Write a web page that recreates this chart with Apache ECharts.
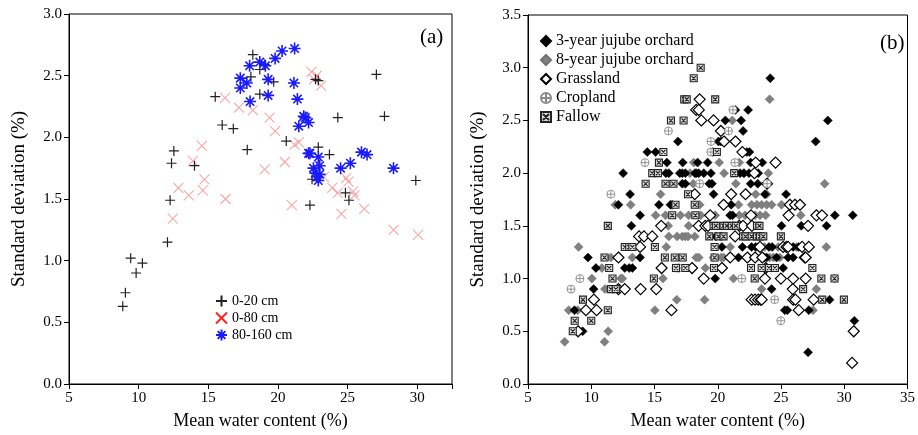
<!DOCTYPE html>
<html>
<head>
<meta charset="utf-8">
<script src="https://cdn.jsdelivr.net/npm/echarts@6/dist/echarts.min.js"></script>
<style>
  html, body { margin: 0; padding: 0; background: #fff; }
  #main { width: 918px; height: 435px; }
</style>
</head>
<body>
<div id="main"></div>
<script>
// panel (a): soil depth layers, [mean water content, standard deviation]
var depth0to20 = [[8.86,0.63],[9.05,0.74],[9.43,1.02],[9.82,0.90],[10.27,0.98],[12.07,1.15],[12.26,1.49],[12.36,1.79],[12.53,1.89],[14.01,1.77],[15.5,2.33],[16.0,2.10],[16.8,2.07],[17.8,1.90],[18.06,2.49],[18.2,2.67],[18.7,2.55],[18.7,2.35],[19.05,2.59],[19.7,2.45],[20.6,1.97],[22.45,1.66],[22.3,1.45],[22.7,2.47],[22.9,2.46],[22.9,1.92],[23.7,1.86],[24.3,2.16],[24.85,1.55],[25.1,1.49],[27.07,2.51],[27.65,2.17],[29.9,1.65]];
var depth0to80 = [[12.45,1.34],[12.86,1.59],[13.6,1.53],[13.9,1.81],[14.54,1.93],[14.6,1.57],[14.73,1.66],[16.2,2.32],[16.24,1.50],[17.2,2.24],[18.2,2.22],[19.05,1.74],[19.4,2.16],[19.8,2.05],[20.5,1.80],[21.0,1.45],[21.2,1.94],[21.5,1.96],[22.4,2.53],[22.6,2.47],[22.8,2.50],[23.1,2.42],[23.3,1.68],[23.9,1.59],[24.3,1.55],[24.56,1.38],[24.9,1.67],[25.06,1.64],[25.4,1.56],[25.5,1.53],[26.2,1.42],[28.3,1.25],[30.07,1.21]];
var depth80to160 = [[17.3,2.40],[17.3,2.48],[17.77,2.44],[17.97,2.58],[18.0,2.29],[18.7,2.61],[19.1,2.58],[19.3,2.47],[19.3,2.34],[19.8,2.64],[20.3,2.70],[21.2,2.72],[21.15,2.44],[21.4,2.31],[21.5,2.09],[21.85,2.17],[21.97,2.16],[22.2,2.12],[22.2,1.87],[22.3,1.87],[22.55,1.75],[22.7,1.71],[22.9,1.84],[22.8,1.68],[22.9,1.65],[23.0,1.70],[23.0,1.77],[24.5,1.75],[25.2,1.79],[26.0,1.88],[26.4,1.86],[28.3,1.75]];

// panel (b): land use types
var orchard3 = [[24.15,2.9],[21.4,2.6],[22.4,2.6],[20.6,2.5],[21.85,2.5],[28.7,2.5],[22.0,2.4],[16.85,2.3],[20.06,2.3],[20.25,2.3],[27.74,2.3],[14.43,2.2],[15.09,2.2],[19.62,2.2],[22.3,2.2],[22.5,2.2],[15.98,2.1],[17.23,2.1],[18.41,2.1],[19.2,2.1],[22.6,2.1],[23.52,2.1],[12.52,2.0],[15.9,2.0],[16.13,2.0],[17.0,2.0],[17.2,2.0],[17.44,2.0],[18.2,2.0],[18.3,2.0],[18.5,2.0],[18.9,2.0],[19.46,2.0],[21.77,2.0],[22.06,2.0],[22.47,2.0],[23.2,2.0],[17.2,1.9],[17.44,1.9],[19.33,1.9],[19.54,1.9],[22.6,1.9],[23.16,1.9],[13.07,1.8],[19.67,1.8],[23.73,1.8],[25.4,1.8],[12.15,1.7],[15.35,1.7],[16.26,1.7],[16.4,1.7],[21.06,1.7],[13.86,1.6],[20.98,1.6],[21.17,1.6],[29.26,1.6],[30.67,1.6],[13.17,1.5],[25.04,1.5],[26.6,1.5],[28.6,1.5],[19.85,1.4],[20.33,1.3],[21.95,1.3],[22.68,1.3],[23.0,1.3],[24.05,1.3],[24.3,1.3],[25.96,1.3],[26.4,1.3],[9.74,1.2],[13.86,1.2],[21.64,1.2],[23.68,1.2],[23.86,1.2],[24.65,1.2],[25.56,1.2],[25.96,1.2],[10.37,1.1],[12.65,1.1],[13.0,1.1],[13.25,1.1],[25.17,1.1],[19.8,1.0],[10.19,0.9],[24.26,0.9],[28.84,0.8],[8.67,0.7],[25.3,0.7],[25.5,0.7],[27.2,0.7],[30.8,0.6],[9.32,0.5],[27.14,0.3]];
var orchard8 = [[24.1,2.7],[21.15,2.5],[20.5,2.3],[18.1,2.1],[20.12,2.1],[21.7,2.1],[17.8,2.0],[20.5,2.0],[22.1,2.0],[24.0,2.0],[18.07,1.9],[21.43,1.9],[28.45,1.9],[15.48,1.8],[23.0,1.8],[23.87,1.8],[11.9,1.7],[13.12,1.7],[18.57,1.7],[21.64,1.7],[22.68,1.7],[23.1,1.7],[23.47,1.7],[23.87,1.7],[24.26,1.7],[25.04,1.7],[15.09,1.6],[15.87,1.6],[17.05,1.6],[17.7,1.6],[18.65,1.6],[19.8,1.6],[21.7,1.6],[22.16,1.6],[22.95,1.6],[23.34,1.6],[23.78,1.6],[26.56,1.6],[16.08,1.5],[17.7,1.5],[21.2,1.5],[16.13,1.4],[16.79,1.4],[17.2,1.4],[17.44,1.4],[17.65,1.4],[18.18,1.4],[9.0,1.3],[15.93,1.3],[20.98,1.3],[23.2,1.3],[23.68,1.3],[24.78,1.3],[26.22,1.3],[28.58,1.3],[11.55,1.2],[13.25,1.2],[18.3,1.2],[18.5,1.2],[19.67,1.2],[20.27,1.2],[20.46,1.2],[24.1,1.2],[24.4,1.2],[24.9,1.2],[10.84,1.1],[16.92,1.1],[19.02,1.1],[10.05,1.0],[12.34,1.0],[12.46,1.0],[15.66,1.0],[21.24,1.0],[29.23,1.0],[11.08,0.9],[23.47,0.9],[27.79,0.9],[16.76,0.8],[18.96,0.8],[8.22,0.7],[8.93,0.7],[15.03,0.7],[27.53,0.7],[11.34,0.5],[7.9,0.4],[11.05,0.4]];
var grassland = [[18.57,2.7],[18.3,2.6],[18.5,2.6],[18.7,2.5],[19.67,2.5],[20.25,2.4],[20.5,2.3],[21.4,2.3],[21.95,2.2],[23.0,2.1],[24.57,2.1],[22.9,2.0],[23.9,1.9],[18.18,1.8],[21.06,1.8],[22.2,1.8],[20.46,1.7],[25.7,1.7],[26.1,1.7],[26.5,1.7],[19.4,1.6],[22.63,1.6],[25.6,1.6],[27.8,1.6],[28.24,1.6],[15.53,1.5],[18.49,1.5],[19.02,1.5],[19.23,1.5],[21.7,1.5],[22.0,1.5],[22.7,1.5],[27.14,1.5],[13.78,1.4],[14.17,1.4],[14.82,1.4],[21.37,1.4],[13.86,1.3],[23.34,1.3],[25.17,1.3],[25.43,1.3],[25.56,1.3],[26.67,1.3],[27.2,1.3],[12.15,1.2],[20.98,1.2],[22.34,1.2],[22.95,1.2],[23.52,1.2],[26.88,1.2],[26.95,1.2],[15.56,1.1],[17.97,1.1],[20.33,1.1],[23.79,1.1],[18.89,1.0],[23.73,1.0],[24.99,1.0],[25.96,1.0],[26.95,1.0],[12.15,0.9],[12.65,0.9],[13.9,0.9],[15.14,0.9],[25.93,0.9],[10.21,0.8],[22.68,0.8],[22.95,0.8],[23.2,0.8],[23.4,0.8],[23.47,0.8],[25.96,0.8],[26.14,0.8],[27.58,0.8],[9.58,0.7],[10.42,0.7],[16.34,0.7],[26.4,0.7],[8.96,0.5],[30.75,0.5],[30.62,0.2]];
var cropland = [[21.2,2.6],[16.1,2.4],[20.85,2.4],[19.46,2.3],[19.46,2.2],[14.25,2.1],[21.35,2.1],[18.57,1.9],[23.9,1.9],[11.55,1.8],[16.92,1.1],[16.7,1.1],[9.1,1.0],[21.9,1.0],[8.4,0.9],[24.5,0.8],[24.99,0.6]];
var fallow = [[18.65,3.0],[18.1,2.9],[17.35,2.7],[17.55,2.7],[19.8,2.7],[16.3,2.5],[17.3,2.5],[15.7,2.2],[19.93,2.2],[15.35,2.1],[14.82,2.0],[15.27,2.0],[21.3,2.0],[14.3,1.9],[15.87,1.9],[16.5,1.9],[17.65,1.8],[16.66,1.7],[18.18,1.7],[16.4,1.6],[18.23,1.6],[11.31,1.5],[19.67,1.5],[19.85,1.5],[20.46,1.5],[20.72,1.5],[21.11,1.5],[21.43,1.5],[23.1,1.5],[23.3,1.5],[19.33,1.4],[20.06,1.4],[20.46,1.4],[22.0,1.4],[22.2,1.4],[22.68,1.4],[23.1,1.4],[23.34,1.4],[23.6,1.4],[24.99,1.4],[12.65,1.3],[13.0,1.3],[13.25,1.3],[15.03,1.3],[19.75,1.3],[11.05,1.2],[15.82,1.2],[16.6,1.2],[17.23,1.2],[19.75,1.2],[11.42,1.1],[16.7,1.1],[17.44,1.1],[19.7,1.1],[22.63,1.1],[23.47,1.1],[24.05,1.1],[24.52,1.1],[27.48,1.1],[11.68,1.0],[14.95,1.0],[22.92,1.0],[28.19,1.0],[29.23,1.0],[11.55,0.9],[11.94,0.9],[26.75,0.9],[9.35,0.8],[28.26,0.8],[29.97,0.8],[11.31,0.7],[8.69,0.6],[10.0,0.6],[8.54,0.5]];

var FONT = 'Liberation Serif';
var PLUS = 'path://M0,5L10,5M5,0L5,10';
var CROSS = 'path://M0,0L10,10M0,10L10,0';
var STAR = 'path://M5,0L5,10M0,5L10,5M1.5,1.5L8.5,8.5M1.5,8.5L8.5,1.5';
var CROP = 'path://M10,5A5,5,0,1,1,0,5A5,5,0,1,1,10,5ZM5,0L5,10M0,5L10,5';
var FALLOW = 'path://M0,0L10,0L10,10L0,10ZM2,2L8,8M2,8L8,2';

function xAxis(idx, max) {
  return {
    gridIndex: idx, type: 'value', min: 5, max: max, interval: 5,
    name: 'Mean water content (%)', nameLocation: 'middle', nameGap: 28,
    nameTextStyle: { fontFamily: FONT, fontSize: 18, color: '#000' },
    axisLine: { lineStyle: { color: '#000', width: 1 } },
    axisTick: { inside: false, length: 5, lineStyle: { color: '#000' } },
    axisLabel: {
      fontFamily: FONT, fontSize: 15, color: '#000', margin: 7,
      formatter: function (v) { return v % 5 === 0 ? String(v) : ''; }
    },
    splitLine: { show: false }
  };
}

function yAxis(idx, max) {
  return {
    gridIndex: idx, type: 'value', min: 0, max: max, interval: 0.5,
    name: 'Standard deviation (%)', nameLocation: 'middle', nameGap: 40,
    nameTextStyle: { fontFamily: FONT, fontSize: 19, color: '#000' },
    axisLine: { lineStyle: { color: '#000', width: 1 } },
    axisTick: { inside: false, length: 5, lineStyle: { color: '#000' } },
    axisLabel: {
      fontFamily: FONT, fontSize: 15, color: '#000', margin: 7,
      formatter: function (v) { return v.toFixed(1); }
    },
    splitLine: { show: false }
  };
}

function scatter(name, idx, data, symbol, size, fill, stroke, width) {
  return {
    name: name, type: 'scatter', xAxisIndex: idx, yAxisIndex: idx,
    data: data, symbol: symbol, symbolSize: size,
    itemStyle: { color: fill, borderColor: stroke, borderWidth: width, opacity: 1 },
    emphasis: { disabled: true }
  };
}

var chart = echarts.init(document.getElementById('main'));
chart.setOption({
  animation: false,
  title: [
    { text: '(a)', left: 415, top: 22, textStyle: { fontFamily: FONT, fontSize: 21, fontWeight: 'normal', color: '#000' } },
    { text: '(b)', left: 875, top: 28, textStyle: { fontFamily: FONT, fontSize: 21, fontWeight: 'normal', color: '#000' } }
  ],
  grid: [
    { left: 69, top: 14, width: 383, height: 370, show: true, borderColor: '#000', borderWidth: 1 },
    { left: 528, top: 15, width: 382, height: 369, show: true, borderColor: '#000', borderWidth: 1 }
  ],
  legend: [
    {
      orient: 'vertical', left: 210, top: 289, itemGap: 3, itemWidth: 11, itemHeight: 11,
      textStyle: { fontFamily: FONT, fontSize: 14, color: '#000' },
      data: [
        { name: '0-20 cm' },
        { name: '0-80 cm', itemStyle: { borderColor: '#ff2020' } },
        { name: '80-160 cm' }
      ]
    },
    {
      orient: 'vertical', left: 535, top: 28, itemGap: 3, itemWidth: 10, itemHeight: 10,
      textStyle: { fontFamily: FONT, fontSize: 16, color: '#000' },
      data: ['3-year jujube orchard', '8-year jujube orchard', 'Grassland', 'Cropland', 'Fallow']
    }
  ],
  xAxis: [xAxis(0, 32.5), xAxis(1, 35)],
  yAxis: [yAxis(0, 3), yAxis(1, 3.5)],
  series: [
    scatter('0-80 cm', 0, depth0to80, CROSS, 10, 'rgba(0,0,0,0)', 'rgba(245,110,110,0.6)', 1.1),
    scatter('0-20 cm', 0, depth0to20, PLUS, 10, 'rgba(0,0,0,0)', '#222', 1.2),
    scatter('80-160 cm', 0, depth80to160, STAR, 12, 'rgba(0,0,0,0)', '#1a1aff', 1.6),
    scatter('8-year jujube orchard', 1, orchard8, 'diamond', 9, '#808080', '#707070', 0.5),
    scatter('3-year jujube orchard', 1, orchard3, 'diamond', 9, '#000', '#000', 0.5),
    scatter('Grassland', 1, grassland, 'diamond', 11, '#fff', '#000', 1.2),
    scatter('Cropland', 1, cropland, CROP, 8, '#fff', '#8a8a8a', 0.9),
    scatter('Fallow', 1, fallow, FALLOW, 7, '#ddd', '#222', 1.1)
  ]
});
</script>
</body>
</html>
